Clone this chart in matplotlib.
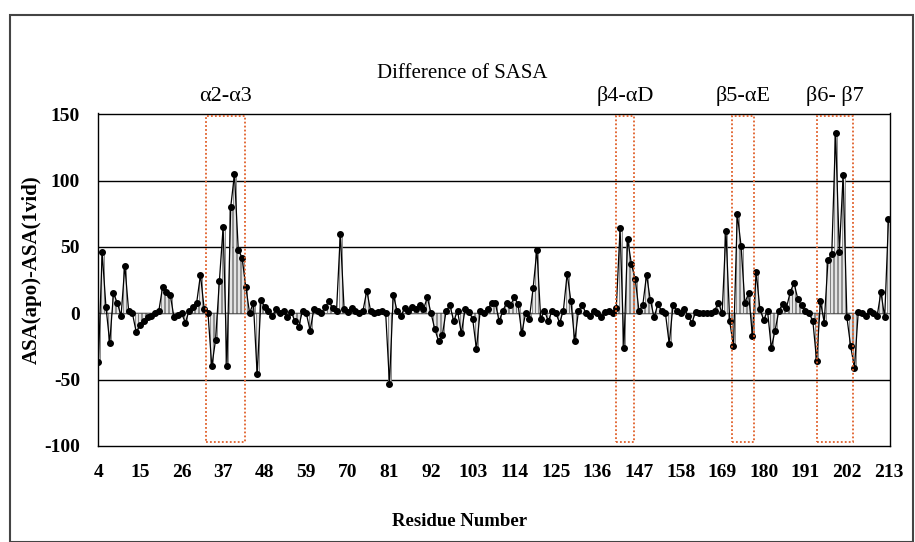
import matplotlib
matplotlib.use("Agg")
import matplotlib.pyplot as plt
from matplotlib.patches import Rectangle

residues = list(range(4, 214))
diff_sasa = [
    -37, 46, 5, -22, 15, 8, -2, 36, 2, 0,          # 4-13
    -14, -9, -6, -3, -2, 0, 2, 20, 16, 14,         # 14-23
    -3, -1, 0, -7, 2, 5, 8, 29, 3, 0,              # 24-33
    -40, -20, 24, 65, -40, 80, 105, 48, 42, 20,    # 34-43
    0, 8, -46, 10, 5, 2, -2, 3, 0, 2,              # 44-53
    -3, 1, -6, -10, 2, 0, -13, 3, 2, 0,            # 54-63
    5, 9, 4, 2, 60, 3, 1, 4, 2, 0,                 # 64-73
    2, 17, 2, 0, 1, 2, 0, -53, 14, 2,              # 74-83
    -2, 4, 2, 5, 3, 6, 3, 12, 0, -12,              # 84-93
    -21, -16, 2, 6, -6, 2, -15, 3, 1, -4,          # 94-103
    -27, 2, 0, 3, 8, 8, -6, 2, 8, 6,               # 104-113
    12, 7, -15, 0, -4, 19, 48, -4, 2, -6,          # 114-123
    2, 0, -7, 2, 30, 9, -21, 2, 6, 0,              # 124-133
    -2, 2, 0, -3, 1, 2, 0, 4, 64, -26,             # 134-143
    56, 37, 26, 2, 6, 29, 10, -3, 7, 2,            # 144-153
    0, -23, 6, 2, 0, 3, -2, -7, 1, 0,              # 154-163
    0, 0, 0, 2, 8, 0, 62, -6, -25, 75,             # 164-173
    51, 8, 15, -17, 31, 3, -5, 2, -26, -13,        # 174-183
    2, 7, 4, 16, 23, 11, 6, 2, 0, -6,              # 184-193
    -36, 9, -7, 40, 45, 136, 46, 104, -3, -25,     # 194-203
    -41, 1, 0, -2, 2, 0, -2, 16, -3, 71,           # 204-213
]
xtick_values = list(range(4, 214, 11))
ytick_values = [-100, -50, 0, 50, 100, 150]
ytick_labels = ["-100", "-50", "0", "50", "100", "150"]
region_names = ["α2-α3", "β4-αD", "β5-αE", "β6- β7"]
region_spans = [(32.6, 42.7), (141.0, 145.7), (171.7, 177.5), (194.2, 203.5)]

plt.rcParams['font.family'] = ['Liberation Serif', 'DejaVu Serif']

fig = plt.figure(figsize=(9.15, 5.42), dpi=100)
# outer chart frame
fig.patches.append(Rectangle((10/915, 0.0), 1 - 10/915 - 0.002, 1 - 15/542,
                             transform=fig.transFigure, fill=False,
                             edgecolor='#444444', lw=1.5))

ax = fig.add_axes([98/915, 1 - 446/542, (890 - 98)/915, (446 - 113)/542])

ax.bar(residues, diff_sasa, width=0.8, color='#e4e4e4', edgecolor='#666666',
       lw=0.5, zorder=2)
ax.plot(residues, diff_sasa, color='black', lw=0.9, marker='o', markersize=4,
        markerfacecolor='black', markeredgecolor='black', zorder=3)

for v in [-50, 0, 50, 100, 150]:
    ax.axhline(v, color='black', lw=1.0, zorder=1)

for (a, b), name in zip(region_spans, region_names):
    ax.add_patch(Rectangle((a, -97), b - a, 246, fill=False,
                           edgecolor='#e0602a', lw=1.3, linestyle=(0, (1, 1.2)),
                           zorder=4))
    ax.text((a + b) / 2, 156, name, ha='center', va='bottom', fontsize=16)

ax.set_xlim(3.9, 213.4)
ax.set_ylim(-100, 151)
ax.set_xticks(xtick_values)
ax.set_xticklabels([str(v) for v in xtick_values], fontsize=14, fontweight='bold')
ax.set_yticks(ytick_values)
ax.set_yticklabels(ytick_labels, fontsize=14, fontweight='bold')
ax.tick_params(length=0)
ax.tick_params(axis='x', pad=13)
ax.tick_params(axis='y', pad=13)
ax.spines['top'].set_visible(False)
for s in ['left', 'right', 'bottom']:
    ax.spines[s].set_linewidth(1.0)
    ax.spines[s].set_color('black')

fig.text(462/915, 1 - 73/542, "Difference of SASA", ha='center', va='center', fontsize=15)
fig.text(460/915, 1 - 522/542, "Residue Number", ha='center', va='center',
         fontsize=13.5, fontweight='bold')
fig.text(32/915, 1 - 270/542, "ASA(apo)-ASA(1vid)", ha='center', va='center',
         fontsize=15, fontweight='bold', rotation=90)

fig.savefig("out.png", dpi=100)
